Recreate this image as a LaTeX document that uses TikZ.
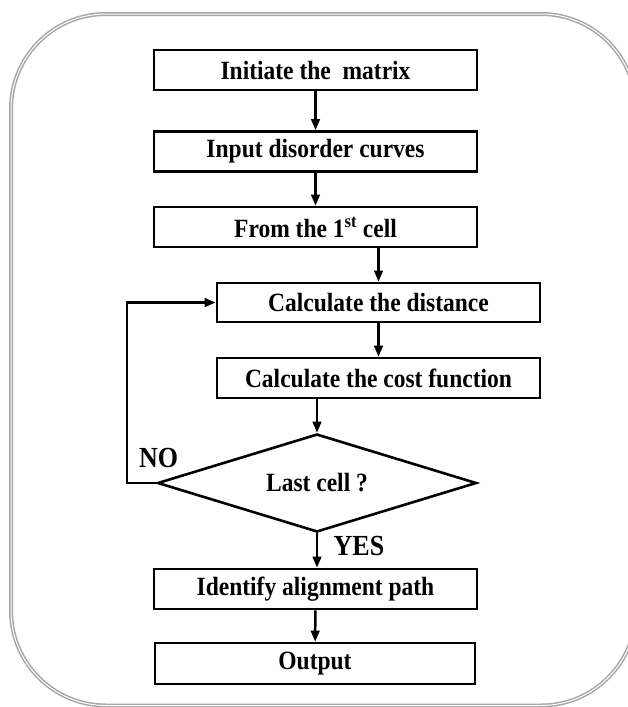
\documentclass[tikz,border=0pt]{standalone}
\usepackage{fontspec}
\setmainfont{Liberation Serif}
\usetikzlibrary{shapes.geometric,arrows.meta}
\newcommand{\tallt}[1]{\scalebox{1}[1.12]{#1}}
\begin{document}
\begin{tikzpicture}[x=1pt,y=-1pt,
  stepbox/.style={draw=black, line width=2.6pt, minimum width=323pt, minimum height=40pt, inner sep=0pt,
    font=\fontsize{23.5}{28}\selectfont\bfseries},
  decision/.style={draw=black, line width=2.6pt, diamond, inner sep=0pt, minimum width=319pt, minimum height=98pt,
    font=\fontsize{23.5}{28}\selectfont\bfseries},
  arr/.style={line width=2.5pt, -{Triangle[length=11pt,width=8.5pt]}},
  lbl/.style={font=\fontsize{26}{30}\selectfont\bfseries, inner sep=0pt}]
\useasboundingbox (0,0) rectangle (628,707);
\clip (0,0) rectangle (628,707);
\fill[white] (0,0) rectangle (628,707);
\draw[draw=gray!70, line width=1.5pt, double=white, double distance=1pt, rounded corners=95pt]
  (11,14) rectangle (636,705.5);
\node[stepbox] (b1) at (315.5,70) {\tallt{Initiate the \ matrix}};
\node[stepbox] (b2) at (315.5,151.5) {\tallt{Input disorder curves}};
\node[stepbox] (b3) at (315.5,227) {\tallt{From the 1\textsuperscript{st} cell}};
\node[stepbox, minimum height=39pt] (b4) at (378.5,302.5) {\tallt{Calculate the distance}};
\node[stepbox] (b5) at (378.5,378) {\tallt{Calculate the cost function}};
\node[decision, aspect=3.25] (d) at (317,483) {\tallt{Last cell ?}};
\node[stepbox] (b6) at (315.5,589) {\tallt{Identify alignment path}};
\node[stepbox, minimum width=320pt, minimum height=41pt] (b7) at (315,663.5) {\tallt{Output}};
\draw[arr] (b1) -- (b2);
\draw[arr] (b2) -- (b3);
\draw[arr] (b3.south -| b4.north) -- (b4.north);
\draw[arr] (b4) -- (b5);
\draw[arr] (d.north |- b5.south) -- (d.north);
\draw[arr] (d.west) -- ++(-29,0) |- (b4.west);
\draw[arr] (d.south) -- (b6.north -| d.south);
\draw[arr] (b6) -- (b7);
\node[lbl] (no) at (158.5,458) {\tallt{NO}};
\node[lbl] (yes) at (359,546) {\tallt{YES}};
\end{tikzpicture}
\end{document}
